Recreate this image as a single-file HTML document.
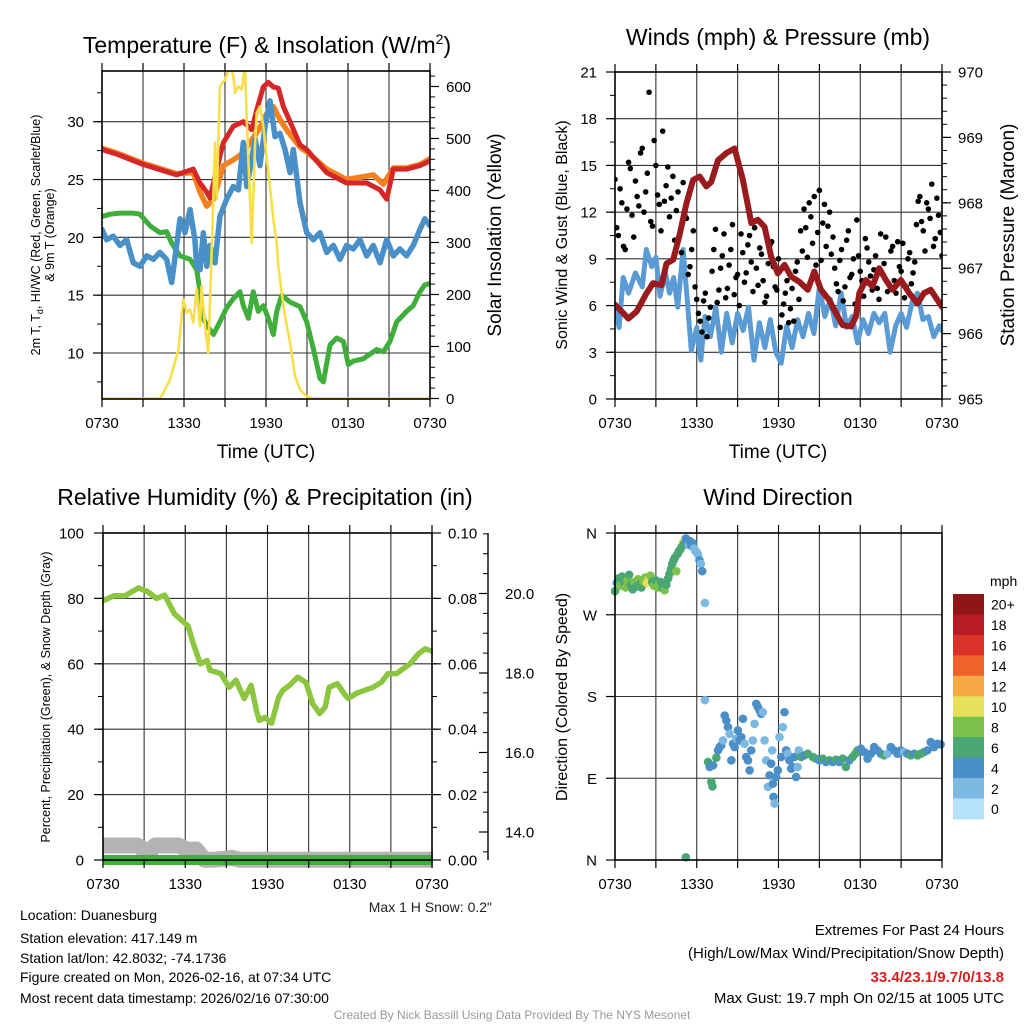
<!DOCTYPE html>
<html><head><meta charset="utf-8">
<style>
html,body{margin:0;padding:0;background:#fff;}
svg{display:block;font-family:"Liberation Sans",Arial,sans-serif;}
</style></head>
<body>
<svg id="chart" width="1024" height="1024" viewBox="0 0 1024 1024" xmlns="http://www.w3.org/2000/svg">
<rect width="1024" height="1024" fill="#fff"/>
<defs>
<clipPath id="c1"><rect x="102" y="71" width="328" height="328"/></clipPath>
<clipPath id="c2"><rect x="615" y="72" width="327" height="327"/></clipPath>
<clipPath id="c3"><rect x="103" y="525" width="330" height="345"/></clipPath>
<clipPath id="c4"><rect x="608" y="526" width="340" height="340"/></clipPath>
</defs>
<g id="p1"></g>
<g id="p2"></g>
<g id="p3"></g>
<g id="p4"></g>

<text x="267" y="53" font-size="23" text-anchor="middle">Temperature (F) &amp; Insolation (W/m<tspan font-size="14" dy="-9">2</tspan><tspan dy="9">)</tspan></text>
<text x="778" y="45" font-size="23" text-anchor="middle">Winds (mph) &amp; Pressure (mb)</text>
<text x="265" y="505" font-size="23" text-anchor="middle">Relative Humidity (%) &amp; Precipitation (in)</text>
<text x="778" y="505" font-size="23" text-anchor="middle">Wind Direction</text>

<text x="266" y="458" font-size="19" text-anchor="middle">Time (UTC)</text>
<text x="778" y="458" font-size="19" text-anchor="middle">Time (UTC)</text>

<text transform="translate(40,235) rotate(-90)" font-size="12.5" text-anchor="middle">2m T, T<tspan font-size="9" dy="3">d</tspan><tspan dy="-3">, HI/WC (Red, Green, Scarlet/Blue)</tspan></text>
<text transform="translate(54,235) rotate(-90)" font-size="12.5" text-anchor="middle">&amp; 9m T (Orange)</text>
<text transform="translate(501,235) rotate(-90)" font-size="19" text-anchor="middle">Solar Insolation (Yellow)</text>
<text transform="translate(567,235) rotate(-90)" font-size="16" text-anchor="middle">Sonic Wind &amp; Gust (Blue, Black)</text>
<text transform="translate(1014,235) rotate(-90)" font-size="19" text-anchor="middle">Station Pressure (Maroon)</text>
<text transform="translate(50,697) rotate(-90)" font-size="12.5" text-anchor="middle">Percent, Precipitation (Green), &amp; Snow Depth (Gray)</text>
<text transform="translate(567,697) rotate(-90)" font-size="16" text-anchor="middle">Direction (Colored By Speed)</text>

<text x="492" y="912" font-size="14" text-anchor="end" fill="#222">Max 1 H Snow: 0.2"</text>
<g font-size="14" fill="#000">
<text x="20" y="920">Location: Duanesburg</text>
<text x="20" y="943">Station elevation: 417.149 m</text>
<text x="20" y="963">Station lat/lon: 42.8032; -74.1736</text>
<text x="20" y="982">Figure created on Mon, 2026-02-16, at 07:34 UTC</text>
<text x="20" y="1003">Most recent data timestamp: 2026/02/16 07:30:00</text>
</g>
<g font-size="15" text-anchor="end">
<text x="1004" y="935">Extremes For Past 24 Hours</text>
<text x="1004" y="958">(High/Low/Max Wind/Precipitation/Snow Depth)</text>
<text x="1004" y="982" fill="#d62020" font-weight="bold">33.4/23.1/9.7/0/13.8</text>
<text x="1004" y="1003">Max Gust: 19.7 mph On 02/15 at 1005 UTC</text>
</g>
<text x="512" y="1019" font-size="12" text-anchor="middle" fill="#999">Created By Nick Bassill Using Data Provided By The NYS Mesonet</text>
<text x="990" y="586" font-size="14">mph</text>
<g id="cbar"></g>
</svg>
<script>
// ---------- DATA ----------
const xTickLabels = ["0730","1330","1930","0130","0730"];
const redTimes = [0,1.07,3.02,5.46,6.68,7.17,7.66,7.9,8.39,8.88,9.61,10.34,10.95,11.32,11.8,12.17,12.54,12.9,13.27,13.76,14.49,14.98,16.44,17.9,19.37,20.34,20.83,21.32,22.29,23.27,24];
const redVals = [27.6,27.2,26.3,25.4,25.9,24.7,23.9,23.4,25.9,28.2,29.6,30.0,29.3,31.0,33.0,33.4,33.0,32.9,31.3,30.0,28.0,27.6,25.6,24.7,24.7,24.1,23.3,25.9,25.9,26.2,26.6];
const orangeTimes = [0,1.07,3.02,5.46,6.68,7.17,7.66,8.15,8.88,9.61,10.34,10.95,11.56,12.05,12.54,13.02,13.51,14.49,14.98,16.44,17.9,19.85,20.59,21.32,22.29,23.27,24];
const orangeVals = [27.7,27.3,26.4,25.5,25.6,23.9,22.7,23.3,26.2,26.7,27.3,28.4,29.5,30.7,31.3,30.2,29.3,27.8,27.4,25.9,25.0,25.4,24.6,26.0,26.0,26.3,26.8];
const blueTimes = [0,0.34,0.83,1.32,1.80,2.29,2.78,3.27,3.76,4.24,4.73,5.10,5.46,5.71,6.07,6.44,6.80,6.93,7.17,7.41,7.66,7.90,8.27,8.63,9.12,9.61,9.98,10.34,10.59,10.83,11.2,11.56,11.93,12.29,12.66,13.02,13.39,13.76,14.0,14.49,14.98,15.46,15.95,16.44,16.93,17.41,17.9,18.39,18.88,19.37,19.85,20.34,20.83,21.32,21.8,22.29,22.78,23.27,23.63,24];
const blueVals = [20.7,19.8,20.1,19.3,19.8,17.8,17.5,18.4,18.1,18.7,18.1,16.1,19.3,21.6,20.4,22.4,19.8,17.5,17.2,20.4,17.5,19.3,17.8,21.8,23.3,24.4,24.1,28.2,24.4,25.9,28.5,26.2,29.6,31.8,28.7,29.0,27.6,25.6,27.6,23.0,20.4,19.8,20.4,18.7,19.3,18.1,19.3,19.0,19.8,18.4,19.3,17.8,19.8,18.4,19.0,18.4,19.3,20.7,21.6,21.0];
const greenTimes = [0,0.59,1.32,2.29,2.78,3.51,4.24,4.73,5.10,5.71,6.44,6.93,7.17,7.41,7.66,8.15,8.63,9.12,9.61,10.1,10.34,10.71,11.07,11.44,11.8,12.17,12.54,12.78,13.15,13.76,14.49,14.98,15.46,15.95,16.2,16.68,17.17,17.66,18.02,18.39,19.12,20.1,20.59,21.07,21.56,22.29,22.78,23.27,23.63,24];
const greenVals = [21.8,22.0,22.1,22.1,22.0,21.0,20.4,20.5,19.5,18.4,18.1,17.2,15.3,13.0,12.4,11.6,12.7,13.9,14.7,15.3,14.1,13.0,15.3,13.6,14.1,13.0,11.6,13.6,15.0,14.4,14.0,12.7,10.4,7.8,7.5,10.7,11.3,11.0,9.0,9.3,9.5,10.3,10.1,11.0,12.7,13.6,14.1,15.3,15.9,16.0];
const solarTimes = [0,4.24,4.49,4.98,5.59,5.95,6.2,6.44,6.68,6.93,7.17,7.29,7.54,7.78,8.02,8.27,8.39,8.63,9.0,9.37,9.61,9.73,9.98,10.22,10.46,10.59,10.71,10.95,11.2,11.32,11.56,11.8,12.05,12.29,12.54,12.78,12.9,13.15,13.39,13.76,14.12,14.49,14.98,15.46,24];
const solarVals = [0,0,11,37,94,190,165,171,146,210,139,216,139,88,280,492,383,600,613,640,620,588,600,594,640,537,460,299,492,549,562,524,460,408,344,299,254,203,158,107,43,17,4,0,0];
const tempTicks = [10,15,20,25,30];
const solarTicks = [0,100,200,300,400,500,600];
const windTimes = [0,0.3,0.6,1,1.5,2,2.3,2.7,3,3.3,3.7,4,4.3,4.6,5,5.3,5.6,6,6.3,6.6,7,7.4,7.8,8.2,8.6,9,9.4,9.8,10.2,10.6,11,11.4,11.8,12.2,12.6,13,13.4,13.8,14.2,14.6,15,15.4,15.8,16.2,16.6,17,17.4,17.8,18.2,18.6,19,19.4,19.8,20.2,20.6,21,21.4,21.8,22.2,22.6,23,23.4,23.8,24];
const windVals = [5.9,4.6,7.8,6.8,8.1,7.2,9.6,8.5,9.1,6.6,8.1,6.8,7.8,5.9,9.6,6.4,3.1,4.6,2.5,5.3,4.0,5.9,3.0,5.5,3.6,5.5,4.4,5.9,2.5,4.9,3.3,5.1,3.0,2.3,4.7,3.3,5.1,4.0,5.5,4.2,7.2,5.3,6.4,4.7,6.8,4.6,5.3,3.6,5.1,4.2,5.5,4.9,5.5,3.0,4.7,5.5,4.6,6.2,6.8,5.1,5.3,4.0,4.7,4.4];
const gustVals = [14.1,10.5,12.6,9.6,15.2,11.8,14.0,12.4,16.1,13.3,19.7,11.1,15.0,12.5,17.2,13.7,11.7,
14.3,12.1,10.5,13.9,11.6,8.5,10.8,6.4,
5.0,6.3,4.0,5.9,
9.6,6.2,8.4,10.6,7.1,9.6,6.7,8.0,10.6,7.5,9.9,8.8,11.0,7.3,9.3,6.2,8.7,10.1,7.2,9.0,
5.4,6.8,4.9,7.1,8.2,6.4,
9.5,11.0,12.6,10.0,8.6,13.4,11.3,9.8,12.0,10.4,
7.4,8.9,6.3,10.2,7.8,9.0,11.5,8.2,6.6,9.7,7.9,8.3,
7.1,10.6,8.7,6.9,9.5,7.6,10.1,8.2,6.5,9.0,7.4,8.8,
12.7,11.4,9.5,12.2,13.8,10.3,11.8,9.2];
const gustVals2 = [11.0,13.5,9.8,12.2,14.8,10.4,13.0,15.8,12.0,14.5,11.4,16.6,13.1,10.8,12.7,14.9,
12.9,10.2,13.3,9.4,11.8,8.0,9.6,7.2,
5.5,4.3,6.8,5.2,
8.2,10.9,7.0,9.2,6.5,8.6,11.2,7.8,6.0,9.4,8.1,10.5,6.9,8.4,9.7,7.6,6.6,9.9,8.5,7.0,
4.6,6.1,7.6,5.8,5.0,8.8,
10.8,12.2,9.1,11.7,13.0,10.7,8.9,12.5,11.1,9.3,
8.4,6.9,9.6,7.2,10.8,8.0,6.1,9.2,7.6,10.3,8.8,7.0,
9.2,6.4,8.0,10.4,7.3,9.8,6.8,8.5,10.0,7.2,9.4,8.1,
11.2,13.0,10.8,12.6,11.6,9.8,12.9,10.7];
const gustStepHours = 0.25;
const gust2OffsetHours = 0.125;
const pressTimes = [0,0.49,0.98,1.59,2.32,2.8,3.41,3.78,4.27,4.76,5.24,5.73,6.22,6.71,7.07,7.56,8.17,8.78,9.39,10.0,10.49,10.98,11.46,11.95,12.44,12.93,13.54,14.15,14.63,15.12,15.73,16.22,16.71,17.32,17.68,17.93,18.41,18.9,19.39,19.88,20.37,20.98,21.59,22.2,22.68,23.17,24];
const pressVals = [966.44,966.34,966.23,966.34,966.62,966.77,966.74,967.07,967.13,967.53,967.99,968.35,968.4,968.25,968.32,968.65,968.76,968.83,968.35,967.69,967.74,967.63,967.18,966.92,967.05,966.87,966.79,966.67,966.95,966.67,966.51,966.31,966.13,966.11,966.26,966.62,966.82,966.72,967.0,966.82,966.67,966.82,966.62,966.46,966.62,966.67,966.41];
const windTicks = [0,3,6,9,12,15,18,21];
const pressTicks = [965,966,967,968,969,970];
const rhTimes = [0,0.8,1.6,2.6,3.3,3.9,4.5,5.2,6.2,6.6,7.1,7.6,7.8,8.6,9.2,9.7,10.3,10.8,11.2,11.4,11.8,12.3,12.8,13.1,13.6,14.2,14.8,15.3,15.8,16.2,16.5,17.1,17.6,17.9,18.5,19.7,20.3,20.8,21.4,22.4,23.0,23.5,23.9];
const rhVals = [79.3,80.8,80.8,83.2,82,80,81,75.3,71.6,66,60,61,58,57,52.8,55,49.4,53.4,45.7,42.7,43.6,41.8,49.7,51.8,53.4,55.9,54.3,47.8,44.8,46.7,52.8,53.9,50.8,49.4,51,52.8,54.3,57,57,60,63,64.6,64];
const precipTimes = [0,24];
const precipVals = [0,0];
const snowTimes = [0,1,2,2.5,3,3.4,3.8,4.5,5.5,6.2,6.8,7.4,8,9,9.4,10,24];
const snowVals = [13.66,13.66,13.66,13.66,13.55,13.5,13.66,13.66,13.66,13.55,13.56,13.3,13.3,13.33,13.35,13.3,13.3];
const rhTicks = [0,20,40,60,80,100];
const precipTicks = [0,0.02,0.04,0.06,0.08,0.10];
const snowTicks = [14,16,18,20];
const dirTimes = [0,0.13,0.26,0.39,0.52,0.65,0.78,0.91,1.04,1.17,1.3,1.43,1.56,1.69,1.82,1.95,2.08,2.21,2.34,2.47,2.6,2.73,2.86,2.99,3.12,3.25,3.38,3.51,3.64,3.77,3.9,
4.0,4.1,4.2,4.3,4.4,4.5,4.6,4.7,4.8,4.9,5.0,5.05,
5.2,5.3,5.4,5.5,5.6,5.7,5.8,5.9,6.0,6.1,6.2,6.3,6.4,6.6,5.2,
6.83,7.07,7.15,7.44,6.95,7.2,7.56,7.68,7.8,7.93,8.05,8.17,8.29,8.41,8.54,8.66,8.78,8.9,9.02,9.15,9.27,9.39,9.51,9.63,9.76,9.88,10,10.12,10.24,10.37,10.49,10.61,10.73,10.85,10.98,11.1,11.22,11.34,11.46,11.54,11.59,11.63,11.71,11.83,11.95,12.07,12.2,12.32,12.44,12.56,12.68,12.8,12.93,13.05,13.17,13.29,13.41,13.49,6.6,
13.66,13.9,14.15,14.51,14.76,15,15.24,15.49,15.73,15.98,16.22,16.46,16.71,16.95,17.2,17.44,17.63,17.8,18.05,18.29,18.54,18.78,19.02,19.27,19.51,19.76,20,20.24,20.49,20.73,20.98,21.22,21.46,21.71,21.95,22.2,22.44,22.68,22.93,23.17,23.41,23.66,23.9];
const dirVals = [296,305,310,302,312,306,300,308,314,303,298,306,301,309,304,300,307,311,305,309,313,306,302,308,300,304,306,299,297,303,310,
315,320,326,330,333,318,337,340,342,345,350,348,
354,350,347,351,346,349,343,340,339,336,330,326,318,283,3,
107.9,85.9,81.1,112.6,102.4,104.2,120.7,124.3,126.2,131.6,159.1,153.6,146.3,138.9,109.7,128,124.3,133.5,142.6,131.6,135.3,155.4,128,113.4,109.7,98.7,120.7,131.6,149.9,171.9,168.2,164.6,160.9,162.8,131.6,109.7,80.4,93.2,106,120.7,84,69.4,62.1,91.4,98.7,135.3,113.4,146.3,162.8,120.7,117,109.7,100.5,102.4,113.4,91.4,102.4,120.7,176,
113.4,115.2,117,113.4,111.5,109.7,111.5,107.9,109.7,107.9,110.4,107.9,111.5,102.4,109.7,113.4,117,120.7,122.5,118.8,111.5,117,124.3,120.7,117,115.2,117,124.3,120.7,117,120.7,118.8,117,115.2,117,115.2,117,118.8,120.7,129.8,124.3,128,127.2];
const dirSpeeds = [6.5,5,7,8.2,7,6.6,9,8.5,7,6.8,7,8.3,6.6,8.8,7.5,6.7,8.2,9,10.5,11,8.4,7.5,9.1,6.9,8.5,9.6,7.3,6.5,8.2,7,6.8,
7,7,6.8,7,6.5,9,6.9,7,6.6,7,10.5,7,
5,4.5,3.5,4.8,4.2,5,3,3.5,3.2,2.8,4.5,2.8,5,3,7,
7,7,7,7,5,5,5,5,5,3,5,5,5,3,5,5,5,3,5,5,5,5,3,5,5,5,5,3,3,5,5,5,5,3,3,3,3,5,5,3,5,5,3,5,5,3,5,3,5,5,3,5,5,5,5,5,3,3,3,
7,5,7,7,7,5,7,5,7,5,7,5,7,7,5,7,7,7,5,5,5,5,5,5,5,7,3,5,5,5,5,3,5,7,5,7,7,7,5,5,5,5,5];
const dirTickLabels = ["N","E","S","W","N"];
const dirTickValues = [0,90,180,270,360];
const speedBinLabels = ["0","2","4","6","8","10","12","14","16","18","20+"];
const speedBinColors = ["#b5e2f8","#7bb9e3","#4a8fc7","#4aa672","#7bc24b","#e8e05a","#f7a945","#f0622a","#dc3128","#b91b24","#8e1518"];

// ---------- RENDER ----------
const NS = "http://www.w3.org/2000/svg";
function mk(parent, tag, attrs){
  const el = document.createElementNS(NS, tag);
  for (const k in attrs) el.setAttribute(k, attrs[k]);
  parent.appendChild(el);
  return el;
}
const P1 = {x0:102,x1:430,y0:71,y1:399};
const P2 = {x0:615,x1:942,y0:72,y1:399};
const P3 = {x0:103,x1:432,y0:533,y1:860};
const P4 = {x0:615,x1:942,y0:533,y1:860};
function xScale(p){ return t => p.x0 + t*(p.x1-p.x0)/24; }
const yTemp = v => 353 - (v-10)*11.565;
const ySolar = w => 398.5 - w*0.52;
const yWind = v => 399 - v*15.571;
const yPress = p => 399 - (p-965)*65.4;
const yRH = v => 860 - v*3.27;
const yPrecip = v => 860 - v*3270;
const ySnow = v => 832 - (v-14)*39.75;
const yDir = d => 860 - d*0.9083;

function pathD(ts, vs, xf, yf){
  let d = "";
  for (let i=0;i<ts.length;i++) d += (i?"L":"M") + xf(ts[i]).toFixed(1) + "," + yf(vs[i]).toFixed(1);
  return d;
}
function grid(g, p, hVals, yf, name){
  const xf = xScale(p);
  for (let h=3; h<24; h+=3){
    const ln = mk(g,"line",{x1:xf(h),x2:xf(h),y1:p.y0,y2:p.y1,stroke:"#333","stroke-width":1.1});
    
    
  }
  hVals.forEach(v=>{
    const y = yf(v);
    if (y<=p.y0+1 || y>=p.y1-1) return;
    const ln = mk(g,"line",{x1:p.x0,x2:p.x1,y1:y,y2:y,stroke:"#333","stroke-width":1.1});
    
    
  });
}
function frame(g, p, name){
  const r = mk(g,"rect",{x:p.x0,y:p.y0,width:p.x1-p.x0,height:p.y1-p.y0,fill:"none",stroke:"#000","stroke-width":1.6});
  
  
  const xf = xScale(p);
  for (let h=0; h<=24; h+=3){
    const tb = mk(g,"line",{x1:xf(h),x2:xf(h),y1:p.y1,y2:p.y1+8,stroke:"#000","stroke-width":1.2});
    
    
    const tt = mk(g,"line",{x1:xf(h),x2:xf(h),y1:p.y0-8,y2:p.y0,stroke:"#000","stroke-width":1.2});
    
    
  }
  xTickLabels.forEach((lab,i)=>{
    const tx = mk(g,"text",{x:xf(i*6),y:p.y1+29,"font-size":15,"text-anchor":"middle"});
    tx.textContent = lab;
    
    
  });
}
function yAxis(g, xPos, dir, majors, minorStep, lo, hi, yf, fmt, labelX, anchor, name){
  for (let v=lo; v<=hi+1e-9; v+=minorStep){
    const y = yf(v);
    const mt = mk(g,"line",{x1:xPos,x2:xPos+dir*5,y1:y,y2:y,stroke:"#000","stroke-width":1});
    
    
  }
  majors.forEach(v=>{
    const y = yf(v);
    const t = mk(g,"line",{x1:xPos,x2:xPos+dir*9,y1:y,y2:y,stroke:"#000","stroke-width":1.2});
    
    
    const tx = mk(g,"text",{x:labelX,y:y+5.5,"font-size":15,"text-anchor":anchor});
    tx.textContent = fmt(v);
    
    
  });
}
function series(g, clip, ts, vs, xf, yf, color, w, name){
  const el = mk(g,"path",{d:pathD(ts,vs,xf,yf),fill:"none",stroke:color,"stroke-width":w,"stroke-linejoin":"round","stroke-linecap":"round","clip-path":"url(#"+clip+")"});
  
  
  return el;
}

(function(){
  const g = document.getElementById("p1");
  const xf = xScale(P1);
  grid(g,P1,tempTicks,yTemp,"temp");
  series(g,"c1",orangeTimes,orangeVals,xf,yTemp,"#f4801f",5.5,"temp-9m-orange-line");
  series(g,"c1",redTimes,redVals,xf,yTemp,"#d62728",5,"temp-2m-line");
  series(g,"c1",greenTimes,greenVals,xf,yTemp,"#3fae3a",5,"dewpoint-green-line");
  series(g,"c1",blueTimes,blueVals,xf,yTemp,"#4a90c8",5.5,"windchill-blue-line");
  series(g,"c1",solarTimes,solarVals,xf,ySolar,"#f8df4a",2.6,"solar-yellow-line");
  frame(g,P1,"temp");
  yAxis(g,P1.x0,-1,tempTicks,2.5,7.5,32.5,yTemp,v=>String(v),84,"end","temp-y");
  yAxis(g,P1.x1,1,solarTicks,20,0,620,ySolar,v=>String(v),446,"start","solar-y");
})();

(function(){
  const g = document.getElementById("p2");
  const xf = xScale(P2);
  grid(g,P2,windTicks,yWind,"wind");
  series(g,"c2",windTimes,windVals,xf,yWind,"#5b9bd5",5,"sonic-wind-line");
  gustVals.forEach((v,i)=>{
    const c = mk(g,"circle",{cx:xf(i*gustStepHours),cy:yWind(v),r:2.8,fill:"#000","clip-path":"url(#c2)"});
    
    
  });
  gustVals2.forEach((v,i)=>{
    const c = mk(g,"circle",{cx:xf(gust2OffsetHours+i*gustStepHours),cy:yWind(v),r:2.8,fill:"#000","clip-path":"url(#c2)"});
    
    
  });
  series(g,"c2",pressTimes,pressVals,xf,yPress,"#991b1e",6,"pressure-line");
  frame(g,P2,"wind");
  yAxis(g,P2.x0,-1,windTicks,1.5,0,21,yWind,v=>String(v),597,"end","wind-y");
  yAxis(g,P2.x1,1,pressTicks,0.2,965,970,yPress,v=>String(v),958,"start","pressure-y");
})();

(function(){
  const g = document.getElementById("p3");
  const xf = xScale(P3);
  grid(g,P3,rhTicks,yRH,"rh");
  series(g,"c3",snowTimes,snowVals,xf,ySnow,"#b3b3b3",16,"snow-depth-gray-line");
  series(g,"c3",rhTimes,rhVals,xf,yRH,"#8cc63f",5.5,"humidity-green-line");
  series(g,"c3",precipTimes,precipVals,xf,yPrecip,"#3fae3a",10,"precip-green-line");
  const base = mk(g,"line",{x1:P3.x0,x2:P3.x1,y1:P3.y1,y2:P3.y1,stroke:"#000","stroke-width":1.2});
  
  
  frame(g,P3,"rh");
  yAxis(g,P3.x0,-1,rhTicks,10,0,100,yRH,v=>String(v),84,"end","rh-y");
  yAxis(g,P3.x1,1,precipTicks,0.01,0,0.1,yPrecip,v=>v.toFixed(2),448,"start","precip-y");
  const ax = mk(g,"line",{x1:488,x2:488,y1:533,y2:860,stroke:"#000","stroke-width":1.4});
  
  
  yAxis(g,488,-1,snowTicks,0.5,13.5,21.5,ySnow,v=>v.toFixed(1),505,"start","snow-y");
})();

(function(){
  const g = document.getElementById("p4");
  const xf = xScale(P4);
  grid(g,P4,dirTickValues,yDir,"dir");
  dirTimes.forEach((t,i)=>{
    const bin = Math.min(10, Math.floor(dirSpeeds[i]/2));
    const c = mk(g,"circle",{cx:xf(t),cy:yDir(dirVals[i]),r:4.3,fill:speedBinColors[bin],"clip-path":"url(#c4)"});
    
    
  });
  frame(g,P4,"dir");
  yAxis(g,P4.x0,-1,dirTickValues,360,0,0,yDir,v=>dirTickLabels[dirTickValues.indexOf(v)],597,"end","dir-y");
  const cb = document.getElementById("cbar");
  const top = 594, h = 20.45;
  for (let k=0;k<11;k++){
    const idx = 10-k;
    const r = mk(cb,"rect",{x:953,y:top+k*h,width:31,height:h+0.5,fill:speedBinColors[idx]});
    
    
    const tx = mk(cb,"text",{x:991,y:top+k*h+h/2+5.5,"font-size":14});
    tx.textContent = speedBinLabels[idx];
    
    
  }
})();
</script>
</body></html>
